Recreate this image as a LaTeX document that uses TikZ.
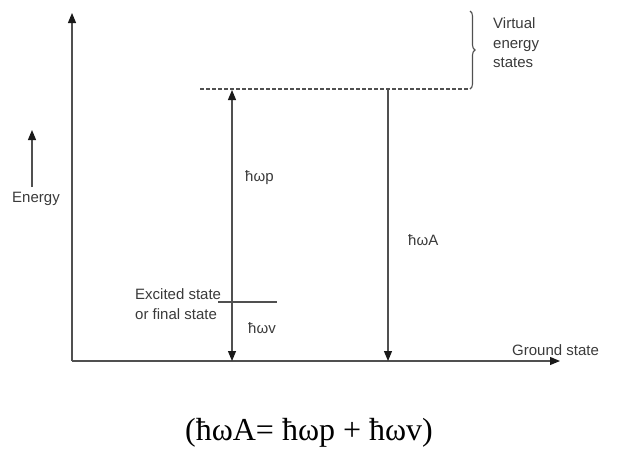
\documentclass[tikz,border=0pt]{standalone}
\usepackage{fontspec}
\setmainfont{Liberation Serif}
\newfontfamily\labelfont{Liberation Sans}
\usetikzlibrary{arrows.meta,decorations.pathreplacing}
\definecolor{linecolor}{HTML}{505050}
\definecolor{tipcolor}{HTML}{1a1a1a}
\definecolor{textcolor}{HTML}{3a3a3a}

\begin{document}
\begin{tikzpicture}[x=1pt, y=-1pt,
        line/.style = {draw = linecolor, line width = 1.1pt},
        tip/.style = {-{Triangle[length = 10pt, width = 8pt, color = tipcolor]}},
        lbl/.style = {text = textcolor, font = \labelfont\fontsize{15}{19.5}\selectfont, inner sep = 0pt, align = left}]
        \useasboundingbox (0, 0) rectangle (621, 450);

        % Points
        \coordinate (o) at (72, 361);
        \coordinate (ytop) at (72, 13);
        \coordinate (xend) at (560, 361);
        \coordinate (vl) at (200, 89);
        \coordinate (vr) at (470, 89);
        \coordinate (bt) at (470, 11);
        \coordinate (p0) at (232, 361);
        \coordinate (p1) at (232, 90);
        \coordinate (a0) at (388, 89);
        \coordinate (a1) at (388, 361);
        \coordinate (e0) at (218, 302);
        \coordinate (e1) at (277, 302);
        \coordinate (en0) at (32, 187);
        \coordinate (en1) at (32, 130);

        % Nodes
        \node [lbl] (energy) at (36, 199) {Energy};
        \node [lbl, anchor = west] (virt) at (493, 43) {Virtual\\energy\\states};
        \node [lbl, anchor = west] (exc) at (135, 304) {Excited state\\or final state};
        \node [lbl, anchor = west] (ground) at (512, 350) {Ground state};
        \node [lbl, anchor = west] (wp) at (245, 178) {ħωp};
        \node [lbl, anchor = west] (wv) at (248, 328) {ħωv};
        \node [lbl, anchor = west] (wa) at (408, 240) {ħωA};
        \node [inner sep = 0pt, font = \fontsize{32}{38}\selectfont] (eq) at (309, 433) {(ħωA= ħωp + ħωv)};

        % Axes
        \draw [line, tip] (o) -- (ytop);
        \draw [line, tip] (o) -- (xend);
        \draw [line, tip] (en0) -- (en1);

        % Virtual level and brace
        \draw [line, dash pattern = on 4pt off 2pt] (vl) -- (vr);
        \draw [line, decorate, decoration = {brace, mirror, amplitude = 5pt}] (vr) -- (bt);

        % Excited level
        \draw [line] (e0) -- (e1);

        % Transitions
        \draw [line, {Triangle[length = 10pt, width = 8pt, color = tipcolor]}-{Triangle[length = 10pt, width = 8pt, color = tipcolor]}] (p1) -- (p0);
        \draw [line, tip] (a0) -- (a1);
    \end{tikzpicture}
\end{document}
